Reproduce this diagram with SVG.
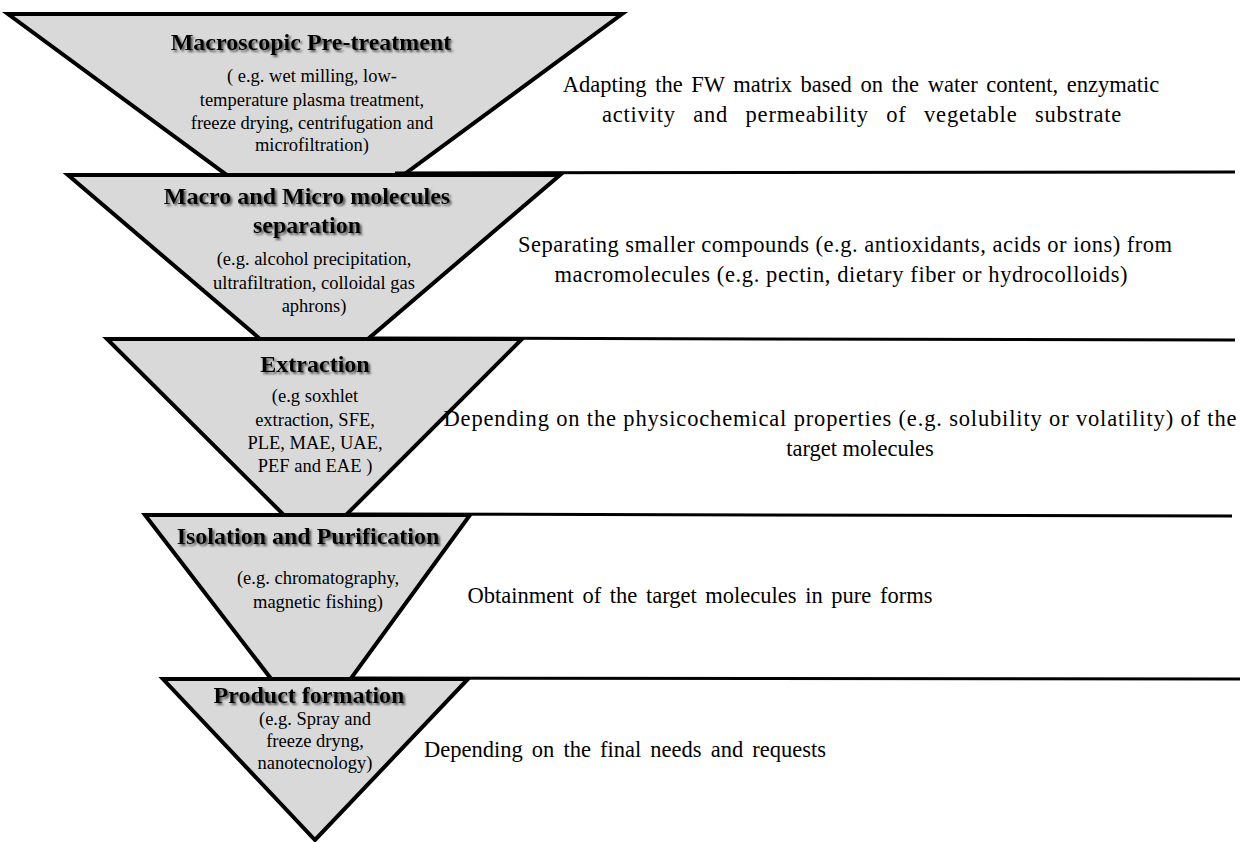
<svg xmlns="http://www.w3.org/2000/svg" width="1240" height="842" viewBox="0 0 1240 842">
<style>
.tri{fill:#d9d9d9;stroke:#000;stroke-width:4;stroke-linejoin:miter}
.sep{stroke:#000;stroke-width:3;fill:none}
.title{font-family:"Liberation Serif",serif;font-weight:bold;font-size:24px;text-anchor:middle;fill:#000;filter:url(#sh)}
.sub{font-family:"Liberation Serif",serif;font-size:18.5px;text-anchor:middle;fill:#000}
.desc{font-family:"Liberation Serif",serif;font-size:22.5px;text-anchor:middle;fill:#000}
</style>
<defs>
<filter id="sh" x="-5%" y="-20%" width="110%" height="150%">
<feDropShadow dx="2" dy="2" stdDeviation="1" flood-color="#555"/>
</filter>
</defs>
<rect width="1240" height="842" fill="#fff"/>
<g id="node-pretreatment">
<polygon class="tri" points="8,14 622,14 315,240"/>
</g>
<g id="node-separation">
<polygon class="tri" points="68,175 560,175 314,385"/>
</g>
<g id="node-extraction">
<polygon class="tri" points="107,339 522,339 315,546"/>
</g>
<g id="node-isolation">
<polygon class="tri" points="145,515 470,515 312,732"/>
</g>
<g id="node-product">
<polygon class="tri" points="163,679 468,679 315,840"/>
</g>
<g id="separators">
<line class="sep" x1="395" y1="173" x2="1235" y2="172"/>
<line class="sep" x1="372" y1="338" x2="1235" y2="340"/>
<line class="sep" x1="350" y1="514" x2="1232" y2="516"/>
<line class="sep" x1="352" y1="678" x2="1240" y2="679"/>
</g>
<g id="labels-pretreatment">
<text class="title" x="311" y="50">Macroscopic  Pre-treatment</text>
<text class="sub" x="312" y="82">( e.g. wet milling, low-</text>
<text class="sub" x="312" y="106">temperature plasma treatment,</text>
<text class="sub" x="312" y="129">freeze drying, centrifugation and</text>
<text class="sub" x="312" y="151">microfiltration)</text>
<text class="desc" x="861" y="92" word-spacing="3">Adapting the FW matrix based on the water content, enzymatic</text>
<text class="desc" x="862" y="122" word-spacing="11" letter-spacing="0.8">activity and permeability of vegetable substrate</text>
</g>
<g id="labels-separation">
<text class="title" x="307" y="204">Macro and Micro molecules</text>
<text class="title" x="307" y="233">separation</text>
<text class="sub" x="314" y="265">(e.g. alcohol precipitation,</text>
<text class="sub" x="314" y="289">ultrafiltration, colloidal gas</text>
<text class="sub" x="314" y="312">aphrons)</text>
<text class="desc" x="845" y="252" textLength="654" lengthAdjust="spacing">Separating smaller compounds (e.g. antioxidants, acids or ions) from</text>
<text class="desc" x="841" y="282" textLength="573" lengthAdjust="spacing">macromolecules (e.g. pectin, dietary fiber or hydrocolloids)</text>
</g>
<g id="labels-extraction">
<text class="title" x="315" y="372">Extraction</text>
<text class="sub" x="315" y="402">(e.g soxhlet</text>
<text class="sub" x="315" y="426">extraction, SFE,</text>
<text class="sub" x="315" y="449">PLE, MAE, UAE,</text>
<text class="sub" x="315" y="472">PEF and EAE  )</text>
<text class="desc" x="840" y="426" textLength="793" lengthAdjust="spacing">Depending on the physicochemical properties (e.g. solubility or volatility) of the</text>
<text class="desc" x="860" y="456">target molecules</text>
</g>
<g id="labels-isolation">
<text class="title" x="308" y="544">Isolation  and Purification</text>
<text class="sub" x="318" y="584">(e.g. chromatography,</text>
<text class="sub" x="318" y="608">magnetic fishing)</text>
<text class="desc" x="700" y="603" word-spacing="3">Obtainment of the target molecules in pure forms</text>
</g>
<g id="labels-product">
<text class="title" x="309" y="703">Product  formation</text>
<text class="sub" x="315" y="725">(e.g. Spray and</text>
<text class="sub" x="315" y="747">freeze dryng,</text>
<text class="sub" x="315" y="769">nanotecnology)</text>
<text class="desc" x="625" y="757" word-spacing="3.5">Depending on the final needs and requests</text>
</g>
</svg>
